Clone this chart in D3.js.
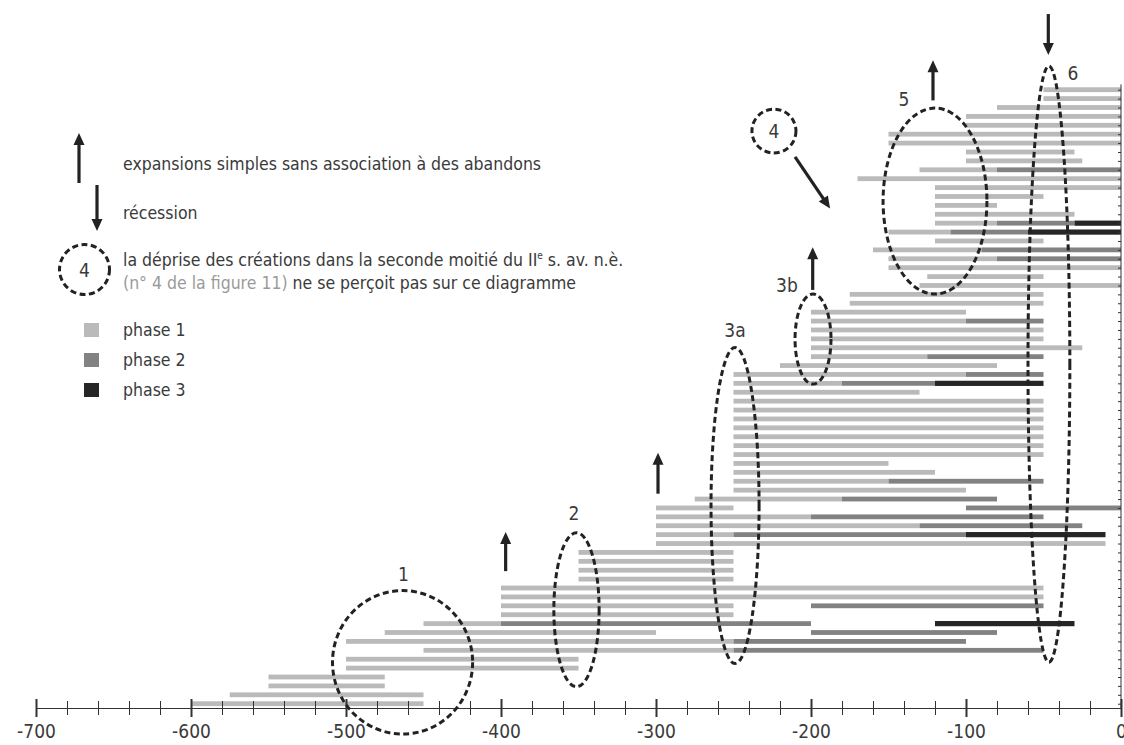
<!DOCTYPE html>
<html>
<head>
<meta charset="utf-8">
<script src="https://cdn.jsdelivr.net/npm/d3@7"></script>
<style>
  body { margin: 0; background: #fff; }
  svg text { font-family: "DejaVu Sans Condensed", "Liberation Sans Narrow", sans-serif; fill: #3a3a3a; }
</style>
</head>
<body>
<div id="chart"></div>
<script>
// Axis values
const tickYears = d3.range(-700, 1, 20);
const labelYears = d3.range(-700, 1, 100);
const rowIds = d3.range(1, 71);

// Bars: [row, start, end] for each phase, row 1 = bottom
const phase1 = [
  [1,-600,-450],[2,-575,-450],[3,-550,-475],[4,-550,-475],[5,-500,-350],[6,-500,-350],
  [7,-450,-250],[8,-500,-250],[9,-475,-300],[10,-450,-400],[11,-400,-250],[12,-400,-250],
  [13,-400,-50],[14,-400,-50],[15,-350,-250],[16,-350,-250],[17,-350,-250],[18,-350,-250],
  [19,-300,-10],[20,-300,-250],[21,-300,-130],[22,-300,-200],[23,-300,-250],[24,-275,-180],
  [25,-250,-100],[26,-250,-150],[27,-250,-120],[28,-250,-150],[29,-250,-50],[30,-250,-50],
  [31,-250,-50],[32,-250,-50],[33,-250,-50],[34,-250,-50],[35,-250,-50],[36,-250,-130],
  [37,-250,-180],[38,-250,-100],[39,-220,-80],[40,-200,-125],[41,-200,-25],[42,-200,-50],
  [43,-200,-50],[44,-200,-100],[45,-200,-100],[46,-175,-50],[47,-175,-50],[48,-130,0],
  [49,-125,-50],[50,-150,0],[51,-150,-80],[52,-160,-90],[53,-120,-50],[54,-150,-110],
  [55,-120,-80],[56,-120,-30],[57,-120,-80],[58,-120,-50],[59,-120,0],[60,-170,0],
  [61,-130,-80],[62,-100,-25],[63,-100,-30],[64,-150,0],[65,-150,0],[66,-100,0],
  [67,-100,0],[68,-80,0],[69,-50,0],[70,-50,0]
];
const phase2 = [
  [7,-250,-50],[8,-250,-100],[9,-200,-80],[10,-400,-200],[12,-200,-50],
  [20,-250,-100],[21,-130,-25],[22,-200,-50],[23,-100,0],[24,-180,-80],[26,-150,-50],
  [37,-180,-120],[38,-100,-50],[40,-125,-50],[44,-100,-50],[51,-80,0],[52,-90,0],
  [54,-110,-60],[55,-80,-30],[61,-80,0]
];
const phase3 = [
  [10,-120,-30],[20,-100,-10],[37,-120,-50],[54,-60,0],[55,-30,0]
];

// Dashed groupings (centre year/row, radii in years/rows) and their labels
const groupings = [
  { label: "1",  cx: -463.5, cy: 5.65,  rx: 45.2, ry: 8.06,  lx: -463,   ly: 15.6 },
  { label: "2",  cx: -351.3, cy: 11.56, rx: 14.6, ry: 8.65,  lx: -352.9, ly: 22.4 },
  { label: "3a", cx: -249,   cy: 23.27, rx: 15.5, ry: 17.75, lx: -249,   ly: 43 },
  { label: "3b", cx: -198.7, cy: 41.98, rx: 11.6, ry: 5.06,  lx: -215.5, ly: 48 },
  { label: "4",  cx: -223.9, cy: 65.35, rx: 14.2, ry: 2.47,  lx: -223.9, ly: 65.35 },
  { label: "5",  cx: -120,   cy: 57.48, rx: 33.5, ry: 10.45, lx: -140,   ly: 69 },
  { label: "6",  cx: -46.5,  cy: 39.17, rx: 13.5, ry: 33.5,  lx: -31,    ly: 71.9 }
];

// Arrows: from (x1,y1) to tip (x2,y2), in years/rows
const arrows = [
  [-397, 15.9, -397, 20.3],
  [-298.7, 24.6, -298.7, 29.2],
  [-198.9, 47.5, -198.9, 52.3],
  [-121.3, 68.8, -121.3, 73.3],
  [-46.9, 78.5, -46.9, 73.9],
  [-210.3, 62.46, -187.7, 56.66]
];

const phaseColors = ["#bababa", "#828282", "#262626"];
const phaseNames = ["phase 1", "phase 2", "phase 3"];

const width = 1124, height = 745;

let xScale = d3.scaleLinear().domain([-700, 0]).range([36, 1121]);
let yScale = d3.scaleLinear().domain([1, 70]).range([703.7, 89.7]);

let svg = d3.select("#chart")
  .append("svg")
  .attr("width", width)
  .attr("height", height);

// bars
[phase1, phase2, phase3].forEach(function(data, i) {
  let h = i === 2 ? 5.2 : 4.8;
  svg.append("g")
    .selectAll("rect")
    .data(data)
    .join("rect")
    .attr("x", d => xScale(d[1]))
    .attr("width", d => xScale(d[2]) - xScale(d[1]))
    .attr("y", d => yScale(d[0]) - h / 2)
    .attr("height", h)
    .attr("fill", phaseColors[i]);
});

// bottom axis
let xAxis = d3.axisBottom(xScale)
  .tickValues(tickYears)
  .tickSize(0)
  .tickSizeOuter(0)
  .tickFormat(d => labelYears.includes(d) ? String(d) : "");

let xg = svg.append("g")
  .attr("transform", "translate(0,708)")
  .call(xAxis);
xg.select(".domain").attr("stroke", "#333");
xg.selectAll(".tick line")
  .attr("stroke", "#333")
  .attr("y1", d => d % 100 === 0 ? -9 : -7)
  .attr("y2", d => d % 100 === 0 ? 9 : 7)
  .attr("stroke-width", d => d % 100 === 0 ? 2 : 1);
xg.selectAll(".tick text")
  .attr("y", 17)
  .style("font-size", "19px")
  .style("font-family", null);

// right axis with a small tick per row
let yAxis = d3.axisLeft(yScale)
  .tickValues(rowIds)
  .tickSize(3)
  .tickSizeOuter(0)
  .tickFormat("");
let yg = svg.append("g")
  .attr("transform", "translate(1121,0)")
  .call(yAxis);
yg.select(".domain").remove();
yg.selectAll(".tick line").attr("stroke", "#333");
yg.append("line")
  .attr("y1", yScale(0.5)).attr("y2", yScale(70.6))
  .attr("stroke", "#333");

// dashed ellipses
svg.append("g")
  .selectAll("ellipse")
  .data(groupings)
  .join("ellipse")
  .attr("cx", d => xScale(d.cx))
  .attr("cy", d => yScale(d.cy))
  .attr("rx", d => xScale(d.cx + d.rx) - xScale(d.cx))
  .attr("ry", d => yScale(d.cy) - yScale(d.cy + d.ry))
  .attr("fill", "none")
  .attr("stroke", "#222")
  .attr("stroke-width", 3)
  .attr("stroke-dasharray", "6,3.5");

svg.append("g")
  .selectAll("text")
  .data(groupings)
  .join("text")
  .attr("x", d => xScale(d.lx))
  .attr("y", d => yScale(d.ly))
  .attr("text-anchor", "middle")
  .attr("dominant-baseline", "central")
  .style("font-size", "19px")
  .text(d => d.label);

function drawArrow(g, x1, y1, x2, y2) {
  let dx = x2 - x1, dy = y2 - y1;
  let len = Math.sqrt(dx * dx + dy * dy);
  let ux = dx / len, uy = dy / len;
  let bx = x2 - ux * 12, by = y2 - uy * 12;
  g.append("line")
    .attr("x1", x1).attr("y1", y1)
    .attr("x2", x2 - ux * 8).attr("y2", y2 - uy * 8)
    .attr("stroke", "#222")
    .attr("stroke-width", 3.2);
  g.append("path")
    .attr("d", `M${x2},${y2}L${bx - uy * 5.5},${by + ux * 5.5}L${bx + uy * 5.5},${by - ux * 5.5}Z`)
    .attr("fill", "#222");
}

let arrowG = svg.append("g");
arrows.forEach(a => drawArrow(arrowG, xScale(a[0]), yScale(a[1]), xScale(a[2]), yScale(a[3])));

// legend
let legend = svg.append("g");
drawArrow(legend, 79, 183, 79, 133);
drawArrow(legend, 97, 185, 97, 231);
legend.append("circle")
  .attr("cx", 84.5).attr("cy", 269.5).attr("r", 25)
  .attr("fill", "none")
  .attr("stroke", "#222")
  .attr("stroke-width", 3)
  .attr("stroke-dasharray", "6,3.5");
legend.append("text")
  .attr("x", 84.5).attr("y", 269.5)
  .attr("text-anchor", "middle")
  .attr("dominant-baseline", "central")
  .style("font-size", "19px")
  .text("4");

let tx = 123, fs = "17.5px";
legend.append("text").attr("x", tx).attr("y", 170).style("font-size", fs)
  .text("expansions simples sans association à des abandons");
legend.append("text").attr("x", tx).attr("y", 219).style("font-size", fs)
  .text("récession");
let t3 = legend.append("text").attr("x", tx).attr("y", 266).style("font-size", fs);
t3.append("tspan").text("la déprise des créations dans la seconde moitié du II");
t3.append("tspan").attr("dy", -7).style("font-size", "10px").text("e");
t3.append("tspan").attr("dy", 7).text(" s. av. n.è.");
let t4 = legend.append("text").attr("x", tx).attr("y", 289).style("font-size", fs);
t4.append("tspan").style("fill", "#9a9a9a").text("(n° 4 de la figure 11)");
t4.append("tspan").text(" ne se perçoit pas sur ce diagramme");

phaseNames.forEach(function(name, i) {
  legend.append("rect")
    .attr("x", 84).attr("y", 323 + i * 30)
    .attr("width", 15).attr("height", 14)
    .attr("fill", phaseColors[i]);
  legend.append("text")
    .attr("x", tx).attr("y", 336 + i * 30)
    .style("font-size", fs)
    .text(name);
});
</script>
</body>
</html>
